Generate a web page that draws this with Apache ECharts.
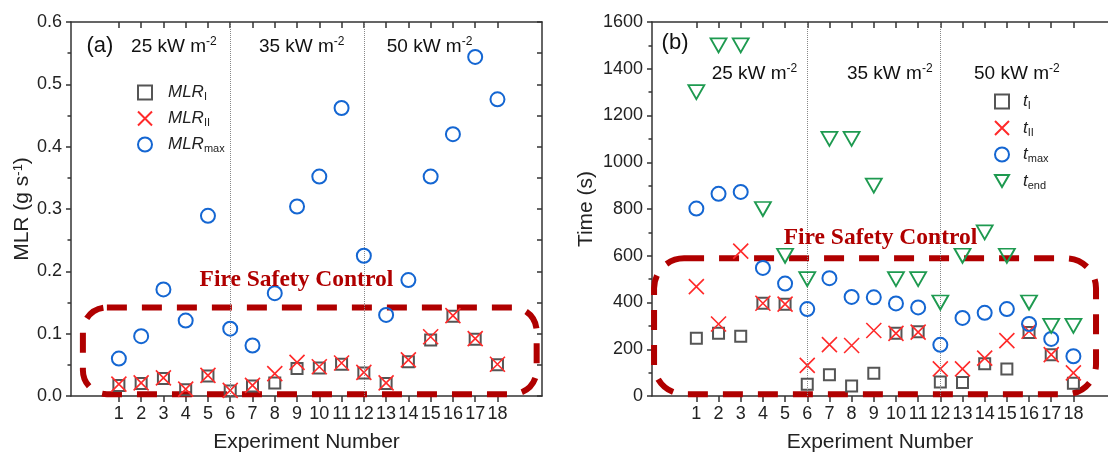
<!DOCTYPE html>
<html><head><meta charset="utf-8">
<script src="https://cdn.jsdelivr.net/npm/echarts@6/dist/echarts.min.js"></script>
<style>html,body{margin:0;padding:0;background:#fff}#c{width:1108px;height:458px}</style>
</head><body><div id="c"></div>
<script>
// ---- data ----
const experiments = [1,2,3,4,5,6,7,8,9,10,11,12,13,14,15,16,17,18];
const mlrI   = [0.017,0.020,0.028,0.010,0.032,0.008,0.016,0.021,0.044,0.045,0.051,0.037,0.020,0.055,0.090,0.128,0.091,0.050];
const mlrII  = [0.019,0.021,0.029,0.011,0.033,0.009,0.017,0.036,0.054,0.047,0.053,0.038,0.021,0.058,0.095,0.129,0.092,0.051];
const mlrMax = [0.060,0.096,0.171,0.121,0.289,0.108,0.081,0.165,0.304,0.352,0.462,0.225,0.130,0.186,0.352,0.420,0.544,0.476];
const tI   = [247,268,256,397,393,50,91,43,97,268,275,60,58,138,116,272,177,55];
const tII  = [468,308,620,397,393,131,220,216,280,268,273,116,116,162,237,277,177,99];
const tMax = [802,865,873,548,481,372,504,424,422,396,379,219,334,356,372,308,244,170];
const tEnd = [1300,1500,1500,800,600,500,1100,1100,900,500,500,400,600,700,600,400,300,300];
const fluxLabels = ['25','35','50'];
const dividers = [6,12];

const FONT = '"Liberation Sans", Arial, sans-serif';
const SERIF = '"Liberation Serif", "Times New Roman", serif';
const AX = '#333';
const C_SQ = '#555555', C_X = '#ff2a2a', C_O = '#1466d2', C_T = '#1e9a50', C_FS = '#b00000';
const SYM_X = 'path://M0,0L10,10M10,0L0,10';
const SYM_TRI = 'path://M0,0L20,0L10,17Z';

const chart = echarts.init(document.getElementById('c'), null, {renderer:'canvas'});

function xPair(grid, min, max) {
  const common = {gridIndex:grid, type:'value', min:min, max:max, splitLine:{show:false},
    axisLine:{show:true, onZero:false, lineStyle:{color:AX, width:1.5}}};
  return [
    Object.assign({}, common, {position:'bottom',
      axisTick:{show:true, length:6, customValues:experiments, lineStyle:{color:AX, width:1.5}},
      axisLabel:{show:true, customValues:experiments, fontSize:18, color:'#222', fontFamily:FONT, margin:9},
      name:'Experiment Number', nameLocation:'middle', nameGap:36,
      nameTextStyle:{fontSize:21, color:'#222', fontFamily:FONT}}),
    Object.assign({}, common, {position:'top',
      axisTick:{show:true, inside:true, length:6, customValues:experiments, lineStyle:{color:AX, width:1.5}},
      axisLabel:{show:false}})
  ];
}
function yPair(grid, max, interval, fmt, name, nameGap, showRight) {
  const common = {gridIndex:grid, type:'value', min:0, max:max, interval:interval, splitLine:{show:false},
    axisLine:{show:true, onZero:false, lineStyle:{color:AX, width:1.5}}};
  return [
    Object.assign({}, common, {position:'left',
      axisTick:{show:true, length:5, lineStyle:{color:AX, width:1.5}},
      minorTick:{show:true, splitNumber:2, length:3.5, lineStyle:{color:AX, width:1.5}},
      axisLabel:{formatter:fmt, fontSize:18, color:'#222', fontFamily:FONT, margin:9},
      name:name, nameLocation:'middle', nameGap:nameGap,
      nameTextStyle:{fontSize:21, color:'#222', fontFamily:FONT,
        rich:{n:{fontSize:21, color:'#222', fontFamily:FONT}, p:{fontSize:13, color:'#222', fontFamily:FONT, verticalAlign:'top', lineHeight:8}}}}),
    Object.assign({}, common, {position:'right',
      axisLine:{show:showRight, onZero:false, lineStyle:{color:AX, width:1.5}},
      axisTick:{show:showRight, inside:true, length:5, lineStyle:{color:AX, width:1.5}},
      minorTick:{show:showRight, splitNumber:2, length:5, lineStyle:{color:AX, width:1.5}},
      axisLabel:{show:false}})
  ];
}
function sc(name, xi, yi, vals, symbol, size, color, z, bw) {
  return {type:'scatter', name:name, xAxisIndex:xi, yAxisIndex:yi, silent:true, z:z,
    data: experiments.map((e,i)=>[e, vals[i]]), symbol:symbol, symbolSize:size,
    itemStyle:{color:'rgba(0,0,0,0)', borderColor:color, borderWidth:bw, opacity:1},
    emphasis:{disabled:true}};
}
function divLine() {
  return {silent:true, symbol:'none', label:{show:false}, animation:false,
    lineStyle:{type:'dotted', color:'#888', width:1},
    data: dividers.map(d=>({xAxis:d}))};
}
function legendRich(pad) {
  return {
    m:{fontSize:17, fontStyle:'italic', color:'#222', fontFamily:FONT, padding:[0,0,0,pad], lineHeight:20},
    s:{fontSize:11, color:'#222', fontFamily:FONT, verticalAlign:'bottom', lineHeight:6}
  };
}
const subMap = {MLR_I:['MLR','I'], MLR_II:['MLR','II'], MLR_max:['MLR','max'],
                t_I:['t','I'], t_II:['t','II'], t_max:['t','max'], t_end:['t','end']};

const sA = [
  sc('MLR_I',0,0,mlrI,'rect',11,C_SQ,3,2),
  sc('MLR_II',0,0,mlrII,SYM_X,15,C_X,4,1.6),
  sc('MLR_max',0,0,mlrMax,'circle',14,C_O,5,2)
];
sA[0].markLine = divLine();
const sB = [
  sc('t_I',2,2,tI,'rect',11,C_SQ,3,2),
  sc('t_II',2,2,tII,SYM_X,15,C_X,4,1.6),
  sc('t_max',2,2,tMax,'circle',14,C_O,5,2),
  sc('t_end',2,2,tEnd,SYM_TRI,[16,14],C_T,6,1.8)
];
sB[0].markLine = divLine();

chart.setOption({
  animation:false,
  backgroundColor:'#fff',
  grid:[{left:71, width:471, top:22, bottom:61}, {left:652, right:0, top:22, bottom:61}],
  xAxis:[].concat(xPair(0,-1.15,20), xPair(1,-1,19.56)),
  yAxis:[].concat(
    yPair(0,0.6,0.1,v=>v.toFixed(1),'{n|MLR (g s}{p|-1}{n|)}',32,true),
    yPair(1,1600,200,v=>String(v),'Time (s)',55,false)),
  legend:[
    {data:['MLR_I','MLR_II','MLR_max'], orient:'vertical', left:132, top:79, itemWidth:14, itemHeight:14, itemGap:7.5,
     formatter:n=>'{m|'+subMap[n][0]+'}{s|'+subMap[n][1]+'}', textStyle:{rich:legendRich(11)}, selectedMode:false},
    {data:['t_I','t_II','t_max','t_end'], orient:'vertical', left:989, top:88, itemWidth:14, itemHeight:14, itemGap:8,
     formatter:n=>'{m|'+subMap[n][0]+'}{s|'+subMap[n][1]+'}', textStyle:{rich:legendRich(9)}, selectedMode:false}
  ],
  series: sA.concat(sB)
});

// ---- annotations placed via data coordinates ----
const annot = {
  panel:[{g:0, text:'(a)', x:0.15, y:0.562}, {g:1, text:'(b)', x:0.04, y:1510}],
  flux:[{g:0, xs:[3.47,9.21,14.95], y:0.560}, {g:1, xs:[3.62,9.72,15.45], y:1378}],
  fire:[{g:0, x:8.97, y:0.187}, {g:1, x:9.3, y:678}],
  box:[{g:0, x:[-0.616,19.76], y:[0.003,0.142], r:24}, {g:1, x:[-0.907,19.02], y:[8,589], r:30}]
};
function px(g, x, y){ return chart.convertToPixel({xAxisIndex:g*2, yAxisIndex:g*2}, [x,y]); }
const gfx = [];
annot.box.forEach(b=>{
  const p1 = px(b.g,b.x[0],b.y[1]), p2 = px(b.g,b.x[1],b.y[0]);
  gfx.push({type:'rect', silent:true, z:2, shape:{x:p1[0], y:p1[1], width:p2[0]-p1[0], height:p2[1]-p1[1], r:b.r},
    style:{fill:'none', stroke:C_FS, lineWidth:6, lineDash:[20,15]}});
});
annot.panel.forEach(a=>{
  const p = px(a.g,a.x,a.y);
  gfx.push({type:'text', silent:true, z:10, x:p[0], y:p[1],
    style:{text:a.text, fontSize:22, fontFamily:FONT, fill:'#111', align:'center', verticalAlign:'middle'}});
});
annot.flux.forEach(a=>{
  a.xs.forEach((x,i)=>{
    const p = px(a.g,x,a.y);
    gfx.push({type:'text', silent:true, z:10, x:p[0], y:p[1],
      style:{text:'{n|'+fluxLabels[i]+' kW m}{p|-2}', align:'center', verticalAlign:'middle',
        rich:{n:{fontSize:19, fontFamily:FONT, fill:'#111', lineHeight:22},
              p:{fontSize:12, fontFamily:FONT, fill:'#111', verticalAlign:'top', lineHeight:10}}}});
  });
});
annot.fire.forEach(a=>{
  const p = px(a.g,a.x,a.y);
  gfx.push({type:'text', silent:true, z:10, x:p[0], y:p[1],
    style:{text:'Fire Safety Control', fontSize:23.5, fontWeight:'bold', fontFamily:SERIF, fill:C_FS, align:'center', verticalAlign:'middle'}});
});
chart.setOption({graphic:gfx});
</script>
</body></html>
